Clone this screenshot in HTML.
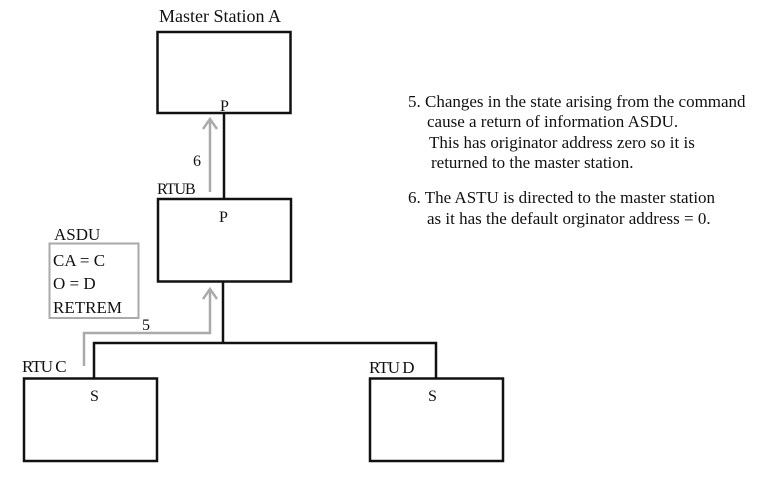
<!DOCTYPE html>
<html><head><meta charset="utf-8"><style>
html,body{margin:0;padding:0;background:#fff;font-family:"Liberation Serif","DejaVu Serif",serif;}
svg{display:block;}
svg text{font-family:"Liberation Serif","DejaVu Serif",serif;fill:#111;}
</style></head><body>
<svg width="765" height="486" viewBox="0 0 765 486" xmlns="http://www.w3.org/2000/svg" font-family="Liberation Serif, DejaVu Serif, serif">
<g fill="none" stroke="#111" stroke-width="2.5">
<rect x="157.5" y="32" width="133" height="81"/>
<rect x="158" y="199" width="133" height="82.5"/>
<rect x="24" y="378.5" width="133" height="82.5"/>
<rect x="370" y="378.5" width="133" height="82.5"/>
<path d="M224 113 V199"/>
<path d="M223 281 V343"/>
<path d="M94 378 V343 H436 V378"/>
</g>
<g fill="none" stroke="#aaa" stroke-width="2.5">
<path d="M210 192 V120"/>
<path d="M203 129 L210 119 L217 129"/>
<path d="M84 366 V333 H210 V290"/>
<path d="M203 299 L210 289 L217 299"/>
<rect x="49.5" y="243.5" width="89" height="74.5" stroke-width="2"/>
</g>
<g font-size="17">
<text x="159" y="22" font-size="18">Master Station A</text>
<text x="220" y="111" font-size="16">P</text>
<text x="219" y="222" font-size="16">P</text>
<text x="193" y="166" font-size="16">6</text>
<text x="157" y="194" font-size="16" letter-spacing="-1">RTUB</text>
<text x="54" y="240" font-size="17">ASDU</text>
<text x="53" y="266" font-size="17">CA = C</text>
<text x="53" y="289" font-size="17">O = D</text>
<text x="53" y="313" font-size="17">RETREM</text>
<text x="142" y="330" font-size="16">5</text>
<text x="22" y="372" font-size="17" letter-spacing="-1">RTU C</text>
<text x="369" y="373" font-size="17" letter-spacing="-1">RTU D</text>
<text x="90" y="401" font-size="16">S</text>
<text x="428" y="401" font-size="16">S</text>
</g>
<g font-size="17">
<text x="408" y="107">5. Changes in the state arising from the command</text>
<text x="427" y="127">cause a return of information ASDU.</text>
<text x="429" y="148">This has originator address zero so it is</text>
<text x="431" y="168">returned to the master station.</text>
<text x="408" y="203">6. The ASTU is directed to the master station</text>
<text x="427" y="224">as it has the default orginator address = 0.</text>
</g>
</svg>
</body></html>
